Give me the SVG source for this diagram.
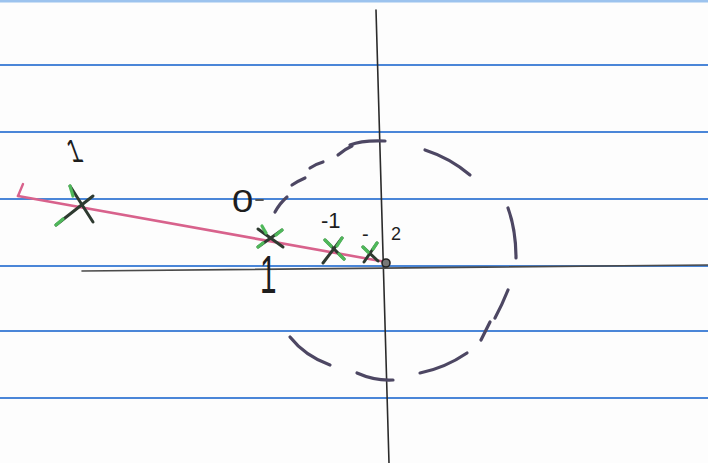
<svg xmlns="http://www.w3.org/2000/svg" width="708" height="463" viewBox="0 0 708 463">
<defs>
<style>
.rule{stroke:#4a86d8;stroke-width:2;fill:none}
.ink{stroke:#2b2b2b;stroke-width:1.6;fill:none;stroke-linecap:round}
.dash{stroke:#4d4763;stroke-width:3.2;fill:none;stroke-linecap:round}
.xk{stroke:#2e3a30;stroke-width:3;fill:none;stroke-linecap:round}
.xg{stroke:#4fb85a;stroke-width:3.2;fill:none;stroke-linecap:round}
.lbl{font-family:"Liberation Sans",Arial,sans-serif;fill:#1e1e1e}
</style>
</defs>
<rect width="708" height="463" fill="#fdfdfd"/>
<g id="paper">
<line class="rule" x1="0" y1="1" x2="708" y2="1" style="stroke:#9cc3ee;stroke-width:3"/>
<line class="rule" x1="0" y1="65" x2="708" y2="65"/>
<line class="rule" x1="0" y1="132" x2="708" y2="132"/>
<line class="rule" x1="0" y1="199" x2="708" y2="199"/>
<line class="rule" x1="0" y1="266" x2="708" y2="266"/>
<line class="rule" x1="0" y1="331" x2="708" y2="331"/>
<line class="rule" x1="0" y1="398" x2="708" y2="398"/>
</g>
<g id="axes">
<line class="ink" x1="376" y1="10" x2="389" y2="463"/>
<line class="ink" x1="82" y1="271" x2="708" y2="265" style="stroke:#4a4a4a;stroke-width:1.6"/>
</g>
<g id="locus">
<line x1="18" y1="196" x2="386" y2="262" stroke="#d8628c" stroke-width="2.6" stroke-linecap="round"/>
<path d="M18 196 L23 184" stroke="#d8628c" stroke-width="2.4" fill="none" stroke-linecap="round"/>
</g>
<g id="circle">
<path class="dash" d="M275 212 Q280 203 287 197"/>
<path class="dash" d="M292 185 Q298 181 305 178"/>
<path class="dash" d="M310 168 Q316 164 323 162"/>
<path class="dash" d="M338 155 Q345 149 352 146"/>
<path class="dash" d="M350 145 Q362 140 385 141"/>
<path class="dash" d="M425 150 Q450 158 470 175"/>
<path class="dash" d="M508 208 Q516 230 516 258"/>
<path class="dash" d="M508 290 Q502 305 495 318"/>
<path class="dash" d="M490 322 Q485 332 481 340"/>
<path class="dash" d="M467 353 Q445 368 420 373"/>
<path class="dash" d="M357 373 Q375 381 393 380"/>
<path class="dash" d="M290 337 Q305 356 330 365"/>
<path class="dash" d="M256 200 L263 200" style="stroke-width:1.8;stroke:#555"/>
</g>
<g id="origin">
<circle cx="386" cy="263" r="4" fill="#777" stroke="#222" stroke-width="1.6"/>
</g>
<g id="x1">
<line class="xk" x1="70" y1="186" x2="93" y2="222"/>
<line class="xk" x1="93" y1="196" x2="56" y2="225"/>
<line class="xg" x1="70" y1="186" x2="73" y2="196"/>
<line class="xg" x1="56" y1="225" x2="63" y2="219"/>
</g>
<g id="x2">
<line class="xk" x1="258" y1="229" x2="283" y2="247"/>
<line class="xk" x1="282" y1="230" x2="258" y2="247"/>
<line class="xg" x1="262" y1="226" x2="266" y2="233"/>
<line class="xg" x1="282" y1="230" x2="276" y2="235"/>
<line class="xg" x1="258" y1="247" x2="263" y2="243"/>
</g>
<g id="x3">
<line class="xk" x1="325" y1="240" x2="344" y2="259"/>
<line class="xk" x1="342" y1="238" x2="323" y2="263"/>
<line class="xg" x1="342" y1="238" x2="337" y2="246"/>
<line class="xg" x1="325" y1="240" x2="331" y2="246"/>
<line class="xg" x1="339" y1="254" x2="344" y2="259"/>
</g>
<g id="x4">
<line class="xk" x1="363" y1="247" x2="378" y2="261"/>
<line class="xk" x1="377" y1="243" x2="364" y2="262"/>
<line class="xg" x1="377" y1="243" x2="373" y2="249"/>
<line class="xg" x1="363" y1="247" x2="368" y2="252"/>
</g>
<g id="labels">
<text class="lbl" x="0" y="0" font-size="32" transform="translate(72,162) skewX(20) scale(0.7,1)">1</text>
<text class="lbl" x="0" y="0" font-size="32" transform="translate(232,212) scale(1.2,1)">0</text>
<text class="lbl" x="0" y="0" font-size="54" transform="translate(260,293) scale(0.55,1)">1</text>
<text class="lbl" x="321" y="228" font-size="22">-1</text>
<text class="lbl" x="362" y="241" font-size="20">-</text>
<text class="lbl" x="391" y="240" font-size="18">2</text>
</g>
</svg>
